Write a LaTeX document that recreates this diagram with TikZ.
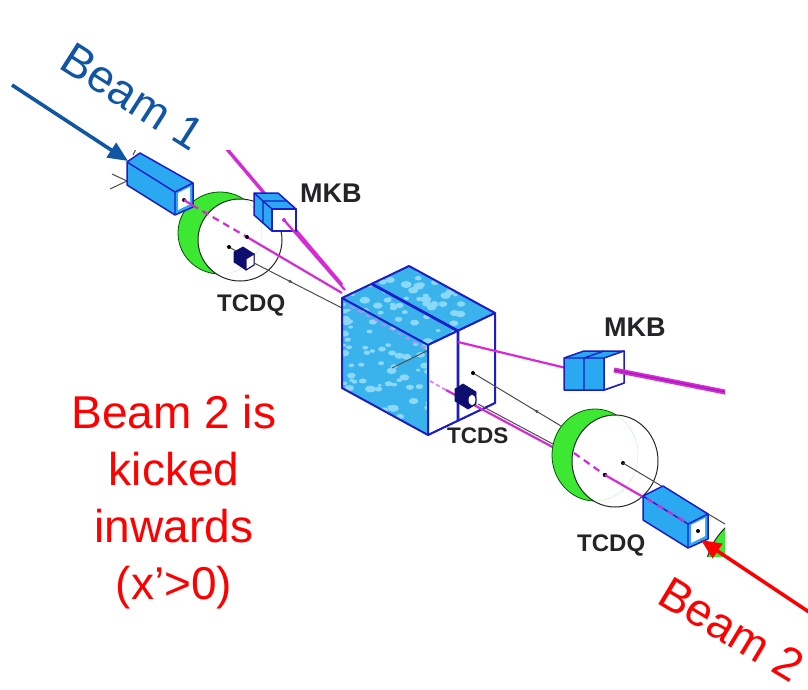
\documentclass[tikz,border=0pt]{standalone}
\usepackage{fontspec}
\setmainfont{Liberation Sans}
\usetikzlibrary{arrows.meta,decorations.markings}
\definecolor{beamblue}{RGB}{16,86,164}
\definecolor{beamred}{RGB}{255,0,0}
\definecolor{boxcyan}{RGB}{42,168,240}
\definecolor{boxedge}{RGB}{28,28,200}
\definecolor{ringgreen}{RGB}{60,232,50}
\definecolor{beammag}{RGB}{214,42,214}
\definecolor{magcore}{RGB}{150,30,170}
\definecolor{navyobj}{RGB}{14,14,110}
\definecolor{texbase}{RGB}{58,178,236}
\definecolor{texlight}{RGB}{140,216,248}
\definecolor{labelgray}{RGB}{36,36,40}
\begin{document}
\begin{tikzpicture}[x=1pt,y=-1pt,
  boxface/.style={fill=boxcyan,draw=boxedge,line width=1.5pt,line join=round},
  whiteface/.style={fill=white,draw=boxedge,line width=1.5pt,line join=round},
  boxline/.style={draw=boxedge,line width=1.4pt,line join=round},
  ringfront/.style={draw=black!85,line width=1pt},
  ringback/.style={draw=green!35!black,line width=0.8pt},
  magline/.style={draw=beammag,line width=2.2pt},
  magthick/.style={draw=beammag,line width=3.4pt},
  magdash/.style={draw=beammag,line width=2.2pt,dash pattern=on 7pt off 5pt},
  pipe/.style={draw=black!70,line width=1pt},
  pipemark/.style={postaction={decorate},decoration={markings,mark=at position #1 with {\arrow{Latex[length=5pt,width=3.5pt]}}}},
  partlabel/.style={font=\fontsize{24}{24}\selectfont\bfseries,text=labelgray,inner sep=0pt,anchor=base west},
  beamtext/.style={font=\fontsize{46}{46}\selectfont,inner sep=0pt,anchor=base west},
  beamarrow/.style={line width=3.6pt,-{Triangle[length=20pt,width=17pt]}}
]
\useasboundingbox (0,0) rectangle (808,690);
\fill[white] (0,0) rectangle (808,690);

\begin{scope}
\clip (110,150) rectangle (725,556);

% ---------- upper ring (TCDQ support) ----------
\begin{scope}
  \clip (220,233) ellipse [x radius=42pt, y radius=41pt];
  \fill[ringgreen, even odd rule] (220,233) ellipse [x radius=42pt, y radius=41pt]
                                  (240,240) ellipse [x radius=42pt, y radius=41pt];
\end{scope}
\begin{scope}[even odd rule]
  \clip (0,0) rectangle (808,690) (240,240) ellipse [x radius=42pt, y radius=41pt];
  \draw[ringback] (220,233) ellipse [x radius=42pt, y radius=41pt];
\end{scope}
\draw[ringfront] (240,240) ellipse [x radius=42pt, y radius=41pt];

% small TCDQ object inside upper ring
\draw[pipe] (229,247) -- (236,251);
\fill (229,247) circle (2pt);
\filldraw[fill=navyobj,draw=navyobj,line width=0.8pt] (234,252) -- (243,247) -- (254,254) -- (254,265) -- (246,270) -- (234,262) -- cycle;
\filldraw[fill=white,draw=navyobj,line width=1pt] (246,259) -- (254,254) -- (254,265) -- (246,270) -- cycle;

% beam line through upper MKB
\draw[magthick] (226,148) -- (342,285);

% stubs at left end
\draw[pipe] (110,189) -- (127,181);
\draw[pipe] (112,174) -- (127,181);
\draw[pipe] (133,155) -- (138,145);

% ---------- upper TCDQ box ----------
\filldraw[boxface] (127,162) -- (140,153) -- (193,183) -- (193,207) -- (175,215) -- (127,185) -- cycle;
\draw[boxline] (127,162) -- (175,192) -- (193,183) (175,192) -- (175,215);
\fill[white] (178,193) -- (190,187) -- (190,204) -- (178,210) -- cycle;
\fill (184,200) circle (2pt);

% beam lines to the dump
\draw[magline] (184,200) -- (192,205);
\draw[magdash] (192,205) -- (247,237);
\draw[magline] (247,237) -- (342,293);
\fill (247,237) circle (2pt);
\draw[pipe, pipemark=0.45] (254,263) -- (342,308);

% ---------- upper MKB ----------
\filldraw[boxface] (254,193) -- (278,193) -- (296,209) -- (296,231) -- (272,231) -- (254,215) -- cycle;
\draw[boxline] (272,209) -- (254,193) (263,201) -- (287,201) (263,201) -- (263,223);
\filldraw[whiteface] (272,209) rectangle (296,231);
\draw[magline] (284,220) -- (345,290);
\fill[beammag] (284,220) circle (2pt);

% ---------- central dump block (TCDS) ----------
\begin{scope}
  \clip (342,298) -- (409,266) -- (495,313) -- (428,345) -- (428,435) -- (342,388) -- cycle;
  \fill[texbase] (330,260) rectangle (500,440);
  \pgfmathsetseed{11}
  \foreach \k in {1,...,200} {
    \pgfmathsetmacro{\px}{342+153*rnd}
    \pgfmathsetmacro{\py}{266+170*rnd}
    \pgfmathsetmacro{\pr}{2+3.5*rnd}
    \pgfmathsetmacro{\pq}{0.65*\pr}
    \fill[texlight] (\px,\py) ellipse [x radius=\pr pt, y radius=\pq pt];
  }
  \draw[beammag!60, line width=1.2pt, dash pattern=on 5pt off 4pt] (350,306) -- (428,350);
  \draw[black!70, line width=0.9pt] (392,368) -- (457,336);
\end{scope}
\filldraw[whiteface] (428,345) -- (495,313) -- (495,403) -- (428,435) -- cycle;
\draw[draw=boxedge, line width=2pt, line join=round] (342,298) -- (409,266) -- (495,313) -- (495,403) -- (428,435) -- (342,388) -- cycle;
\draw[draw=boxedge, line width=2pt, line join=round] (342,298) -- (428,345) -- (428,435) (428,345) -- (495,313);
\draw[draw=boxedge, line width=2.8pt, line join=round] (372,284) -- (458,331) -- (458,421);

% lines leaving the dump block
\draw[magline] (458,342) -- (566,368);
\draw[pipe, pipemark=0.35] (566,429) -- (473,373);
\fill (473,373) circle (2pt);
\draw[pipe] (478,404) -- (566,451);
\draw[beammag!70, line width=1.4pt, dash pattern=on 4pt off 3pt] (430,381) -- (446,390);
\draw[magline] (446,390) -- (560,451);

% TCDS object
\filldraw[fill=navyobj,draw=navyobj,line width=0.8pt] (455,389) -- (463,384) -- (476,392) -- (476,404) -- (468,409) -- (455,401) -- cycle;
\filldraw[fill=white,draw=navyobj,line width=1pt] (472,400) ellipse [x radius=4pt, y radius=6pt];

% ---------- lower ring ----------
\begin{scope}
  \clip (595,455) ellipse [x radius=43pt, y radius=46pt];
  \fill[ringgreen, even odd rule] (595,455) ellipse [x radius=43pt, y radius=46pt]
                                  (615,461) ellipse [x radius=43pt, y radius=46pt];
\end{scope}
\begin{scope}[even odd rule]
  \clip (0,0) rectangle (808,690) (615,461) ellipse [x radius=43pt, y radius=46pt];
  \draw[ringback] (595,455) ellipse [x radius=43pt, y radius=46pt];
\end{scope}
\draw[ringfront] (615,461) ellipse [x radius=43pt, y radius=46pt];

\draw[magdash] (574,453) -- (605,475);
\fill (605,475) circle (2.2pt);
\fill (623,463) circle (2pt);
\draw[pipe] (623,463) -- (730,527);
\draw[magline] (605,475) -- (645,498);

% green ring at the corner
\fill[ringgreen] (770,575) circle (65pt);
\draw[ringfront] (770,575) circle (65pt);

% ---------- lower TCDQ box ----------
\filldraw[boxface] (643,496) -- (663,486) -- (708,514) -- (708,539) -- (688,548) -- (643,520) -- cycle;
\draw[boxline] (643,496) -- (688,524) -- (708,514) (688,524) -- (688,548);
\fill[white] (691,525) -- (705,518) -- (705,536) -- (691,543) -- cycle;
\fill (698,531) circle (2pt);
\draw[magdash] (647,499) -- (686,522);

% ---------- right MKB ----------
\filldraw[boxface] (564,358) -- (584,351) -- (624,351) -- (624,383) -- (604,390) -- (564,390) -- cycle;
\draw[boxline] (564,358) -- (604,358) (584,358) -- (584,390) (584,358) -- (604,351);
\filldraw[whiteface] (604,358) -- (624,351) -- (624,383) -- (604,390) -- cycle;
\draw[beammag, line width=5pt] (614,370) -- (730,393);
\draw[magcore, line width=1.1pt] (614,370) -- (730,393);
\end{scope}

% ---------- part labels ----------
\node[partlabel, font=\fontsize{27}{27}\selectfont\bfseries] (mkbone) at (300,202) {MKB};
\node[partlabel] (tcdqone) at (217,311) {TCDQ};
\node[partlabel, font=\fontsize{22.5}{22.5}\selectfont\bfseries] (tcds) at (447,443) {TCDS};
\node[partlabel] (tcdqtwo) at (577,551) {TCDQ};
\node[partlabel, font=\fontsize{27}{27}\selectfont\bfseries] (mkbtwo) at (604,336) {MKB};

% ---------- beam annotations ----------
\node[beamtext, text=beamblue, rotate=-32.5] (beamone) at (57,67) {Beam 1};
\coordinate (bonestart) at (12,85);
\coordinate (bonetip) at (128,161);
\draw[beamarrow, beamblue] (bonestart) -- (bonetip);

\node[beamtext, text=beamred, rotate=-31] (beamtwo) at (655,602) {Beam 2};
\coordinate (btwostart) at (812,614);
\coordinate (btwotip) at (701,540);
\draw[beamarrow, beamred] (btwostart) -- (btwotip);

\node[align=center, text=beamred, font=\fontsize{46}{57}\selectfont, inner sep=0pt] (kicknote) at (174,502) {Beam 2 is\\kicked\\inwards\\(x’>0)};
\end{tikzpicture}
\end{document}
